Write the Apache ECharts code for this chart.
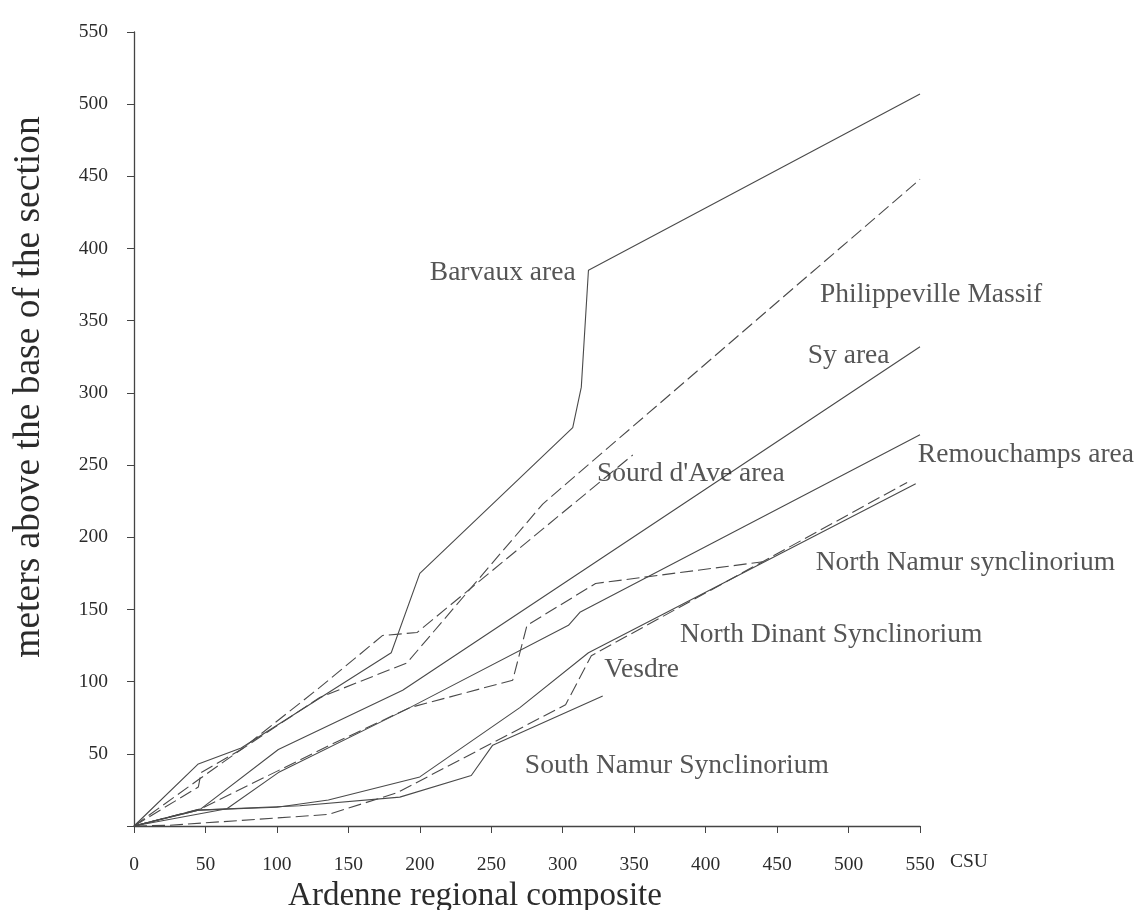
<!DOCTYPE html>
<html>
<head>
<meta charset="utf-8">
<script src="https://cdn.jsdelivr.net/npm/echarts@6.0.0/dist/echarts.min.js"></script>
<style>
  html, body { margin: 0; padding: 0; background: #ffffff; }
  #chart { width: 1134px; height: 910px; }
</style>
</head>
<body>
<div id="chart"></div>
<script>
// Stratigraphic position (m above base of section) against the
// Ardenne regional composite (CSU), one polyline per area.
const xTicks = [0, 50, 100, 150, 200, 250, 300, 350, 400, 450, 500, 550];

const barvaux       = [[0,0],[45,43],[75,54],[180,120],[200,175],[307,276],[313,304],[318,385],[550,507]];
const philippeville = [[0,0],[45,32],[75,53],[130,89],[191,113],[286,223],[550,448]];
const sourdDAve     = [[0,0],[45,27],[47,37],[75,53],[130,96],[174,132],[198,134],[349,257]];
const syArea        = [[0,0],[47,12],[101,53],[188,94],[550,332]];
const remouchamps   = [[0,0],[65,12],[101,37],[193,82],[304,139],[312,148],[550,271]];
const northNamur    = [[0,0],[47,12],[137,56],[193,82],[265,101],[275,139],[323,168],[440,183]];
const northDinant   = [[0,0],[45,11],[100,13],[136,18],[200,34],[270,82],[318,120],[547,237]];
const vesdre        = [[0,0],[25,0.5],[136,8],[184,23],[302,84],[320,118],[541,238]];
const southNamur    = [[0,0],[45,11],[116,14],[186,20],[236,35],[251,56],[328,90]];

// area names written next to the curves, anchored in data units
const areaLabels = [
  ['Barvaux area', 207, 383],
  ['Philippeville Massif', 480, 368],
  ['Sy area', 471.5, 325.5],
  ["Sourd d'Ave area", 324, 244],
  ['Remouchamps area', 548.5, 257],
  ['North Namur synclinorium', 477, 182],
  ['North Dinant Synclinorium', 382, 132.5],
  ['Vesdre', 329, 108.5],
  ['South Namur Synclinorium', 273.5, 42]
];

const SERIF = '"Liberation Serif", "DejaVu Serif", serif';
const INK = '#2b2b2b';
const LINE = '#4a4a4a';

function curve(name, data, dashed) {
  return {
    name: name,
    type: 'line',
    data: data,
    symbol: 'none',
    showSymbol: false,
    silent: true,
    lineStyle: { color: LINE, width: 1.1, type: dashed ? [13, 5] : 'solid' }
  };
}

const chart = echarts.init(document.getElementById('chart'), null, { renderer: 'canvas' });

chart.setOption({
  animation: false,
  backgroundColor: '#ffffff',
  grid: { left: 134, right: 214, top: 32, bottom: 84, containLabel: false, outerBoundsMode: 'none' },
  xAxis: {
    type: 'value',
    min: 0, max: 550, interval: 50,
    name: 'Ardenne regional composite',
    nameLocation: 'middle',
    nameGap: 52,
    nameTextStyle: { fontFamily: SERIF, fontSize: 33, color: INK, padding: [0, 104, 0, 0] },
    axisLine: { show: true, lineStyle: { color: '#444', width: 1.3 } },
    axisTick: { show: true, inside: false, length: 7, lineStyle: { color: '#444' } },
    axisLabel: {
      margin: 29,
      fontFamily: SERIF, fontSize: 19.5, color: INK,
      customValues: xTicks
    },
    splitLine: { show: false }
  },
  yAxis: {
    type: 'value',
    min: 0, max: 550, interval: 50,
    name: 'meters above the base of the section',
    nameLocation: 'middle',
    nameGap: 86,
    nameTextStyle: { fontFamily: SERIF, fontSize: 37.5, color: INK, padding: [0, 0, 0, 84] },
    axisLine: { show: true, lineStyle: { color: '#444', width: 1.3 } },
    axisTick: { show: true, inside: false, length: 7, lineStyle: { color: '#444' } },
    axisLabel: {
      margin: 26,
      fontFamily: SERIF, fontSize: 19.5, color: INK,
      padding: [0, 0, 12, 0],
      formatter: v => (v === 0 ? '' : String(v))
    },
    splitLine: { show: false }
  },
  graphic: [{
    type: 'text',
    left: 950, top: 852,
    style: { text: 'CSU', fontFamily: SERIF, fontSize: 19.5, fill: INK }
  }],
  series: [
    curve('Barvaux area', barvaux, false),
    curve('Philippeville Massif', philippeville, true),
    curve("Sourd d'Ave area", sourdDAve, true),
    curve('Sy area', syArea, false),
    curve('Remouchamps area', remouchamps, false),
    curve('North Namur synclinorium', northNamur, true),
    curve('North Dinant Synclinorium', northDinant, false),
    curve('Vesdre', vesdre, true),
    curve('South Namur Synclinorium', southNamur, false),
    {
      type: 'scatter',
      silent: true,
      symbolSize: 0,
      data: areaLabels.map(d => ({ name: d[0], value: [d[1], d[2]] })),
      label: {
        show: true,
        position: 'right',
        distance: 0,
        formatter: p => p.name,
        fontFamily: SERIF, fontSize: 27.5, color: INK
      },
      z: 5
    }
  ]
});
</script>
</body>
</html>
